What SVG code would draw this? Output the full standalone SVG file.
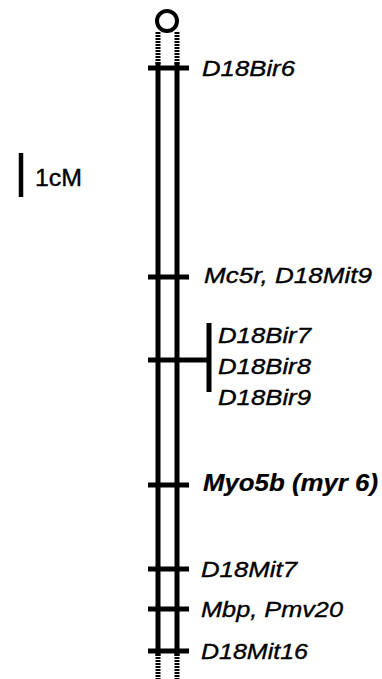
<svg xmlns="http://www.w3.org/2000/svg" width="382" height="679" viewBox="0 0 382 679">
<style>
.lbl{font-family:"Liberation Sans",Arial,sans-serif;font-style:italic;font-size:22px;fill:#000;stroke:#000;stroke-width:0.35}
.b{font-weight:bold;font-size:23px;stroke-width:0.2}
.chr{stroke:#000;stroke-width:5;fill:none}
.hat{stroke:#000;stroke-width:5;fill:none;stroke-dasharray:2 1}
.tick{stroke:#000;stroke-width:5}
</style>
<rect width="382" height="679" fill="#fff"/>
<g id="scale">
<line x1="21" y1="153" x2="21" y2="197" stroke="#000" stroke-width="4.5"/>
<text x="35" y="186" textLength="47" lengthAdjust="spacingAndGlyphs" style="font-family:'Liberation Sans',Arial,sans-serif;font-size:23px;stroke:#000;stroke-width:0.35">1cM</text>
</g>
<g id="chromosome">
<circle cx="167" cy="21" r="10" fill="none" stroke="#000" stroke-width="4"/>
<line class="hat" x1="158" y1="32" x2="158" y2="64"/>
<line class="hat" x1="177" y1="32" x2="177" y2="64"/>
<line class="chr" x1="158" y1="62" x2="158" y2="656"/>
<line class="chr" x1="177" y1="62" x2="177" y2="656"/>
<line class="hat" x1="158" y1="654" x2="158" y2="679"/>
<line class="hat" x1="177" y1="654" x2="177" y2="679"/>
</g>
<g id="connectors">
<line class="tick" x1="148" y1="360" x2="209" y2="360"/>
<line class="tick" x1="209" y1="323" x2="209" y2="392"/>
</g>
<g id="D18Bir6"><line class="tick" x1="148" y1="68" x2="189" y2="68"/><text class="lbl" x="202" y="76" textLength="93" lengthAdjust="spacingAndGlyphs">D18Bir6</text></g>
<g id="Mc5r"><line class="tick" x1="148" y1="277" x2="189" y2="277"/><text class="lbl" x="204" y="283" textLength="168" lengthAdjust="spacingAndGlyphs">Mc5r, D18Mit9</text></g>
<g id="D18Bir7"><text class="lbl" x="218" y="343" textLength="93" lengthAdjust="spacingAndGlyphs">D18Bir7</text></g>
<g id="D18Bir8"><text class="lbl" x="218" y="374" textLength="93" lengthAdjust="spacingAndGlyphs">D18Bir8</text></g>
<g id="D18Bir9"><text class="lbl" x="218" y="405" textLength="93" lengthAdjust="spacingAndGlyphs">D18Bir9</text></g>
<g id="Myo5b"><line class="tick" x1="148" y1="485" x2="189" y2="485"/><text class="lbl b" x="203" y="491" textLength="175" lengthAdjust="spacingAndGlyphs">Myo5b (myr 6)</text></g>
<g id="D18Mit7"><line class="tick" x1="148" y1="569" x2="189" y2="569"/><text class="lbl" x="201" y="577" textLength="96" lengthAdjust="spacingAndGlyphs">D18Mit7</text></g>
<g id="Mbp"><line class="tick" x1="148" y1="609" x2="189" y2="609"/><text class="lbl" x="201" y="617" textLength="142" lengthAdjust="spacingAndGlyphs">Mbp, Pmv20</text></g>
<g id="D18Mit16"><line class="tick" x1="148" y1="651" x2="189" y2="651"/><text class="lbl" x="201" y="659" textLength="107" lengthAdjust="spacingAndGlyphs">D18Mit16</text></g>
</svg>
